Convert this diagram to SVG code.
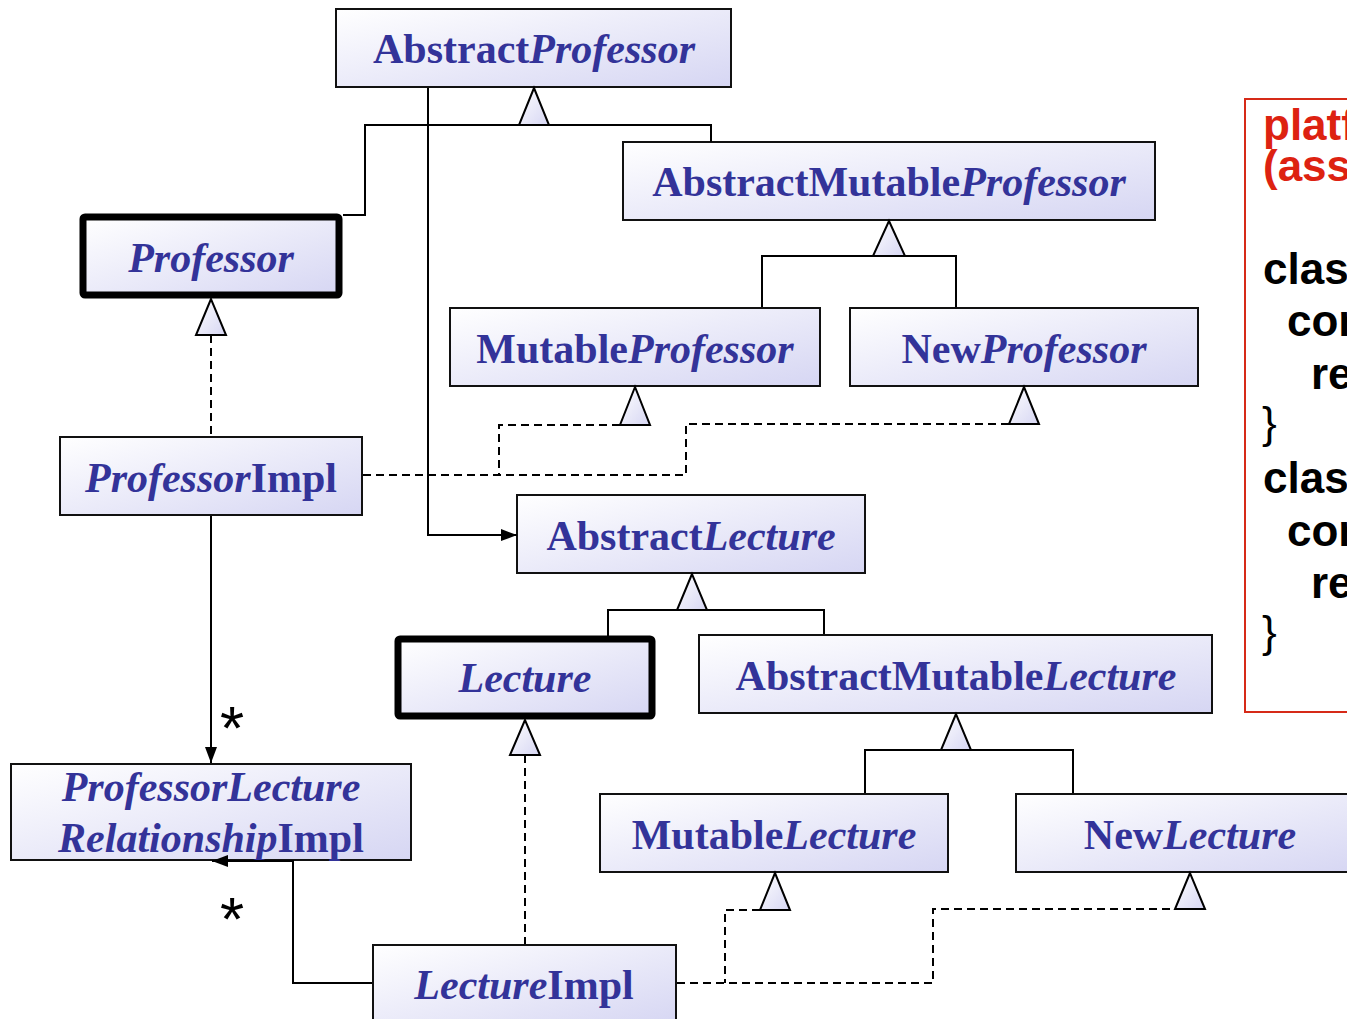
<svg xmlns="http://www.w3.org/2000/svg" width="1347" height="1019" viewBox="0 0 1347 1019">
  <defs>
    <linearGradient id="boxFill" x1="0" y1="0" x2="1" y2="1">
      <stop offset="0" stop-color="#ffffff"/>
      <stop offset="1" stop-color="#d6d6f3"/>
    </linearGradient>
    <marker id="arrow" viewBox="0 0 16 12" refX="16" refY="6" markerWidth="16" markerHeight="12" markerUnits="userSpaceOnUse" orient="auto">
      <path d="M0,0 L16,6 L0,12 Z" fill="#000"/>
    </marker>
    <style>
      .box { fill: url(#boxFill); stroke: #111; stroke-width: 2; }
      .iface { fill: url(#boxFill); stroke: #000; stroke-width: 7; }
      .lbl { font-family: "Liberation Serif", "Times New Roman", serif; font-weight: bold; font-size: 42px; fill: #333399; text-anchor: middle; }
      .it { font-style: italic; }
      .line { fill: none; stroke: #000; stroke-width: 2; }
      .dash { fill: none; stroke: #000; stroke-width: 2; stroke-dasharray: 8 5; }
      .tri { fill: url(#boxFill); stroke: #000; stroke-width: 2; stroke-linejoin: miter; }
      .mult { font-family: "Liberation Sans", Arial, sans-serif; font-size: 62px; fill: #000; text-anchor: middle; }
      .code { font-family: "Liberation Sans", Arial, sans-serif; font-weight: bold; font-size: 44px; fill: #000; }
      .brace { font-weight: normal; }
      .codeRed { fill: #dd2211; }
    </style>
  </defs>

  <g id="AbstractProfessor">
    <rect class="box" x="336" y="9" width="395" height="78"/>
    <text class="lbl" x="534" y="63">Abstract<tspan class="it">Professor</tspan></text>
  </g>

  <g id="Professor">
    <rect class="iface" x="83" y="217" width="256" height="78" rx="2"/>
    <text class="lbl it" x="211" y="272">Professor</text>
  </g>

  <g id="AbstractMutableProfessor">
    <rect class="box" x="623" y="142" width="532" height="78"/>
    <text class="lbl" x="889" y="196">AbstractMutable<tspan class="it">Professor</tspan></text>
  </g>

  <g id="MutableProfessor">
    <rect class="box" x="450" y="308" width="370" height="78"/>
    <text class="lbl" x="635" y="363">Mutable<tspan class="it">Professor</tspan></text>
  </g>

  <g id="NewProfessor">
    <rect class="box" x="850" y="308" width="348" height="78"/>
    <text class="lbl" x="1024" y="363">New<tspan class="it">Professor</tspan></text>
  </g>

  <g id="ProfessorImpl">
    <rect class="box" x="60" y="437" width="302" height="78"/>
    <text class="lbl" x="211" y="492"><tspan class="it">Professor</tspan>Impl</text>
  </g>

  <g id="AbstractLecture">
    <rect class="box" x="517" y="495" width="348" height="78"/>
    <text class="lbl" x="691" y="550">Abstract<tspan class="it">Lecture</tspan></text>
  </g>

  <g id="Lecture">
    <rect class="iface" x="398" y="639" width="254" height="77" rx="2"/>
    <text class="lbl it" x="525" y="692">Lecture</text>
  </g>

  <g id="AbstractMutableLecture">
    <rect class="box" x="699" y="635" width="513" height="78"/>
    <text class="lbl" x="956" y="690">AbstractMutable<tspan class="it">Lecture</tspan></text>
  </g>

  <g id="ProfessorLectureRelationshipImpl">
    <rect class="box" x="11" y="764" width="400" height="96"/>
    <text class="lbl it" x="211" y="801">ProfessorLecture</text>
    <text class="lbl" x="211" y="852"><tspan class="it">Relationship</tspan>Impl</text>
  </g>

  <g id="MutableLecture">
    <rect class="box" x="600" y="794" width="348" height="78"/>
    <text class="lbl" x="774" y="849">Mutable<tspan class="it">Lecture</tspan></text>
  </g>

  <g id="NewLecture">
    <rect class="box" x="1016" y="794" width="348" height="78"/>
    <text class="lbl" x="1190" y="849">New<tspan class="it">Lecture</tspan></text>
  </g>

  <g id="LectureImpl">
    <rect class="box" x="373" y="945" width="303" height="80"/>
    <text class="lbl" x="524" y="999"><tspan class="it">Lecture</tspan>Impl</text>
  </g>

  <!-- connectors, drawn over the boxes so arrowheads sit on the edges -->
  <g id="connectors">
    <!-- AbstractProfessor generalisation -->
    <polyline class="line" points="343,215 365,215 365,125 711,125 711,142"/>
    <polygon class="tri" points="534,88 519,125 549,125"/>
    <!-- AbstractProfessor to AbstractLecture association -->
    <polyline class="line" points="428,88 428,535 517,535" marker-end="url(#arrow)"/>
    <!-- AbstractMutableProfessor generalisation -->
    <polyline class="line" points="762,307 762,256 956,256 956,307"/>
    <polygon class="tri" points="889,221 873,256 905,256"/>
    <!-- ProfessorImpl realises Professor -->
    <line class="dash" x1="211" y1="335" x2="211" y2="436"/>
    <polygon class="tri" points="211,299 196,335 226,335"/>
    <!-- ProfessorImpl realises MutableProfessor / NewProfessor -->
    <polyline class="dash" points="363,475 686,475 686,424 1009,424"/>
    <polyline class="dash" points="620,425 499,425 499,475"/>
    <polygon class="tri" points="635,387 620,425 650,425"/>
    <polygon class="tri" points="1024,387 1009,424 1039,424"/>
    <!-- ProfessorImpl to relationship -->
    <line class="line" x1="211" y1="516" x2="211" y2="763" marker-end="url(#arrow)"/>
    <text class="mult" x="232" y="749">*</text>
    <!-- LectureImpl to relationship -->
    <polyline class="line" points="372,983 293,983 293,861 212,861" marker-end="url(#arrow)"/>
    <text class="mult" x="232" y="940">*</text>
    <!-- AbstractLecture generalisation -->
    <polyline class="line" points="608,636 608,610 824,610 824,634"/>
    <polygon class="tri" points="692,574 677,610 707,610"/>
    <!-- LectureImpl realises Lecture -->
    <line class="dash" x1="525" y1="755" x2="525" y2="944"/>
    <polygon class="tri" points="525,720 510,755 540,755"/>
    <!-- AbstractMutableLecture generalisation -->
    <polyline class="line" points="865,793 865,750 1073,750 1073,793"/>
    <polygon class="tri" points="956,714 941,750 971,750"/>
    <!-- LectureImpl realises MutableLecture / NewLecture -->
    <polyline class="dash" points="677,983 933,983 933,909 1175,909"/>
    <polyline class="dash" points="760,910 725,910 725,983"/>
    <polygon class="tri" points="775,873 760,910 790,910"/>
    <polygon class="tri" points="1190,873 1175,909 1205,909"/>
  </g>

  <!-- code note on the right edge -->
  <g id="note">
    <rect x="1245" y="99" width="140" height="613" fill="#ffffff" stroke="#d62a18" stroke-width="2"/>
    <text class="code codeRed" x="1263" y="140">platf</text>
    <text class="code codeRed" x="1263" y="181">(ass</text>
    <text class="code" x="1263" y="284">class</text>
    <text class="code" x="1287" y="336">con</text>
    <text class="code" x="1311" y="389">re</text>
    <text class="code brace" x="1262" y="438">}</text>
    <text class="code" x="1263" y="493">class</text>
    <text class="code" x="1287" y="546">con</text>
    <text class="code" x="1311" y="598">re</text>
    <text class="code brace" x="1262" y="647">}</text>
  </g>
</svg>
